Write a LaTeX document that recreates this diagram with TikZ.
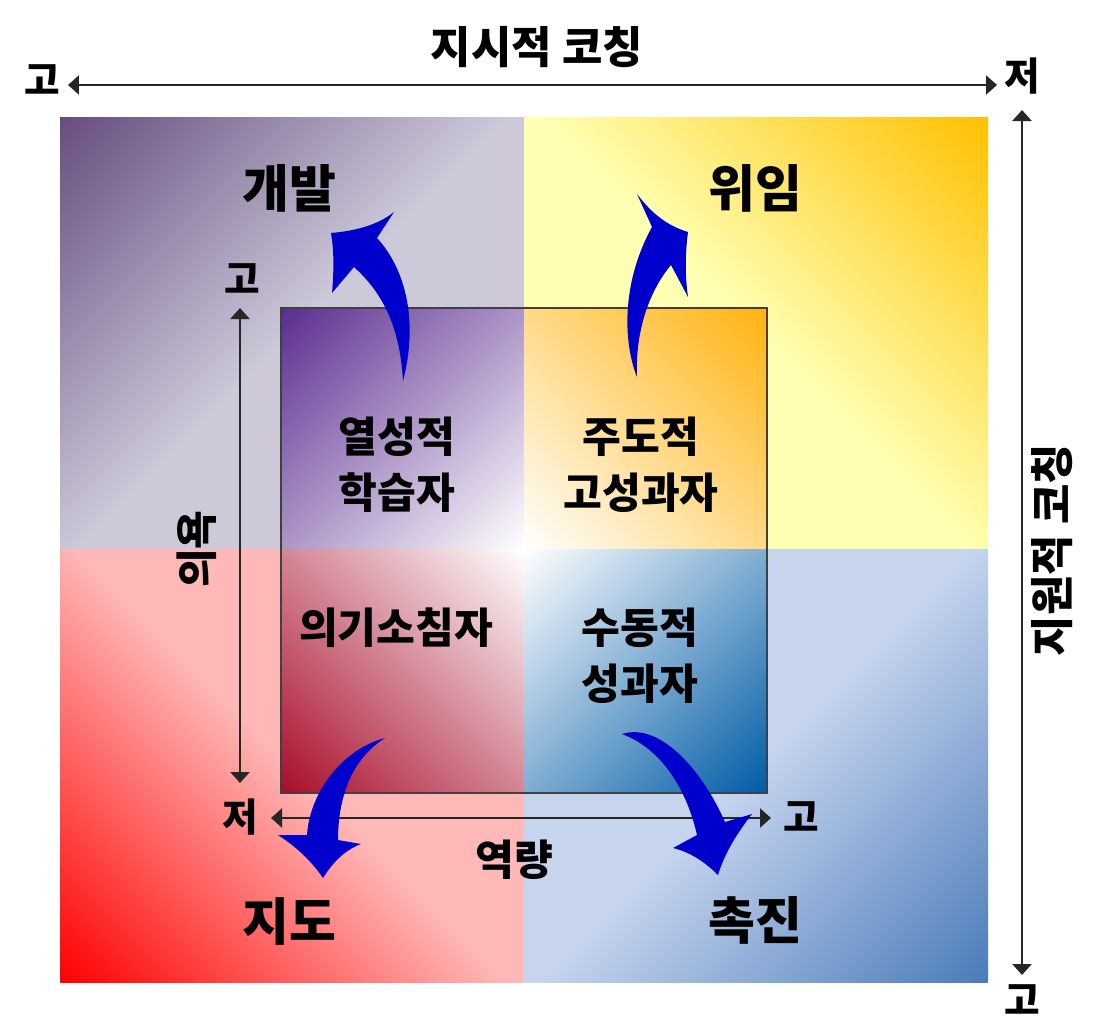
\documentclass[tikz,border=0pt]{standalone}
\usepackage{fontspec}
\newfontfamily\kr{Noto Sans CJK KR}
\usetikzlibrary{arrows.meta}

\definecolor{outTL}{HTML}{664D80}
\definecolor{outTLl}{HTML}{CDC9D9}
\definecolor{outTR}{HTML}{FFC000}
\definecolor{outTRl}{HTML}{FFFFB3}
\definecolor{outBL}{HTML}{FF0000}
\definecolor{outBLl}{HTML}{FFB8B8}
\definecolor{outBR}{HTML}{4A7BBA}
\definecolor{outBRl}{HTML}{C6D4EE}
\definecolor{inTL}{HTML}{5B2C90}
\definecolor{inTR}{HTML}{FFB310}
\definecolor{inBL}{HTML}{A80C2A}
\definecolor{inBR}{HTML}{005BA6}
\definecolor{axgray}{HTML}{262626}
\definecolor{frame}{HTML}{404040}
\definecolor{arrowblue}{HTML}{0000CC}

\begin{document}
\begin{tikzpicture}[x=0.02cm, y=-0.02cm, inner sep=0pt,
  axis/.style={draw=axgray, line width=1.3pt, {Triangle[length=2.2mm,width=3.8mm]}-{Triangle[length=2.2mm,width=3.8mm]}},
  endlbl/.style={font=\kr\bfseries\fontsize{22}{22}\selectfont},
  coachlbl/.style={font=\kr\bfseries\fontsize{25}{25}\selectfont},
  axlbl/.style={font=\kr\bfseries\fontsize{24}{24}\selectfont},
  stylelbl/.style={font=\kr\bfseries\fontsize{29}{29}\selectfont},
  quad/.style={font=\kr\bfseries\fontsize{24}{32}\selectfont, align=center}]
	\useasboundingbox (0,0) rectangle (1097,1031);
	% quadrants, outer then inner
	\foreach \xa/\ya/\xb/\yb/\ang/\ca/\cm/\cb in {
	  60/117/524/549/45/outTL/outTLl/outTLl, 524/117/988/549/-45/outTR/outTRl/outTRl,
	  60/549/524/982/135/outBL/outBLl/outBLl, 524/549/988/982/-135/outBR/outBRl/outBRl,
	  281/308/524/549/45/inTL/inTL!50!white/white, 524/308/767/549/-45/inTR/inTR!50!white/white,
	  281/549/524/793/135/inBL/inBL!50!white/white, 524/549/767/793/-135/inBR/inBR!50!white/white}{
	  \pgfmathsetmacro\cx{(\xa+\xb)/2}
	  \pgfmathsetmacro\cy{(\ya+\yb)/2}
	  \pgfmathsetmacro\hs{(\xb-\xa+\yb-\ya)/2.8284}
	  \begin{scope}
	    \clip (\xa,\ya) rectangle (\xb,\yb);
	    \shade[transform canvas={rotate around={\ang:(\cx,\cy)}}, top color=\ca, bottom color=\cb, middle color=\cm]
	      ({\cx-\hs},{\cy-\hs}) rectangle ({\cx+\hs},{\cy+\hs});
	  \end{scope}
	}
	\draw[draw=frame, line width=0.6pt] (281,308) rectangle (767,793);
	% axes
	\coordinate (dirL) at (68,85);
	\coordinate (dirR) at (997,85);
	\coordinate (supT) at (1022,110);
	\coordinate (supB) at (1022,975);
	\coordinate (willT) at (240,308);
	\coordinate (willB) at (240,783);
	\coordinate (skillL) at (271,818);
	\coordinate (skillR) at (771,818);
	\draw[axis] (dirL) -- (dirR);
	\draw[axis] (supT) -- (supB);
	\draw[axis] (willT) -- (willB);
	\draw[axis] (skillL) -- (skillR);
	\node[endlbl] (dirHi) at (42,80) {고};
	\node[endlbl] (dirLo) at (1022,76) {저};
	\node[coachlbl] (dirName) at (537,47) {지시적 코칭};
	\node[endlbl] (supHi) at (1022,1000) {고};
	\node[coachlbl, rotate=90] (supName) at (1052,550) {지원적 코칭};
	\node[endlbl] (willHi) at (242,279) {고};
	\node[endlbl] (willLo) at (240,817) {저};
	\node[endlbl] (skillHi) at (801,817) {고};
	\node[axlbl, rotate=90] (willName) at (197,549) {의욕};
	\node[axlbl] (skillName) at (514,860) {역량};
	% styles and stages
	\node[stylelbl] (develop) at (289,188) {개발};
	\node[stylelbl] (delegate) at (755,188) {위임};
	\node[stylelbl] (direct) at (289,921) {지도};
	\node[stylelbl] (support) at (755,920) {촉진};
	\node[quad] (enthus) at (397,465) {열성적\\학습자};
	\node[quad] (peak) at (641,465) {주도적\\고성과자};
	\node[quad] (disill) at (396,628) {의기소침자};
	\node[quad] (capable) at (640,656) {수동적\\성과자};
	% curved arrows
	\fill[arrowblue] (331,233) .. controls (355,231) and (378,225) .. (394,212) -- (377,238)
	  .. controls (402,265) and (420,315) .. (403,381) .. controls (400,330) and (385,295) .. (354,267)
	  -- (332,293) .. controls (334,270) and (334,250) .. cycle;
	\fill[arrowblue] (637,194) .. controls (652,214) and (668,226) .. (688,232)
	  .. controls (685,255) and (685,275) .. (688,297) -- (671,265)
	  .. controls (650,290) and (635,330) .. (637,377) .. controls (624,345) and (620,285) .. (652,227) -- cycle;
	\fill[arrowblue] (385,738) .. controls (345,748) and (310,790) .. (307,835) -- (278,835)
	  .. controls (298,848) and (312,862) .. (323,878) .. controls (333,862) and (345,850) .. (361,844)
	  -- (338,840) .. controls (338,800) and (350,760) .. cycle;
	\fill[arrowblue] (622,734) .. controls (660,722) and (702,770) .. (725,822) -- (752,814)
	  .. controls (738,832) and (725,852) .. (718,875) .. controls (705,862) and (690,852) .. (673,848)
	  -- (697,835) .. controls (688,795) and (665,750) .. cycle;
\end{tikzpicture}
\end{document}
